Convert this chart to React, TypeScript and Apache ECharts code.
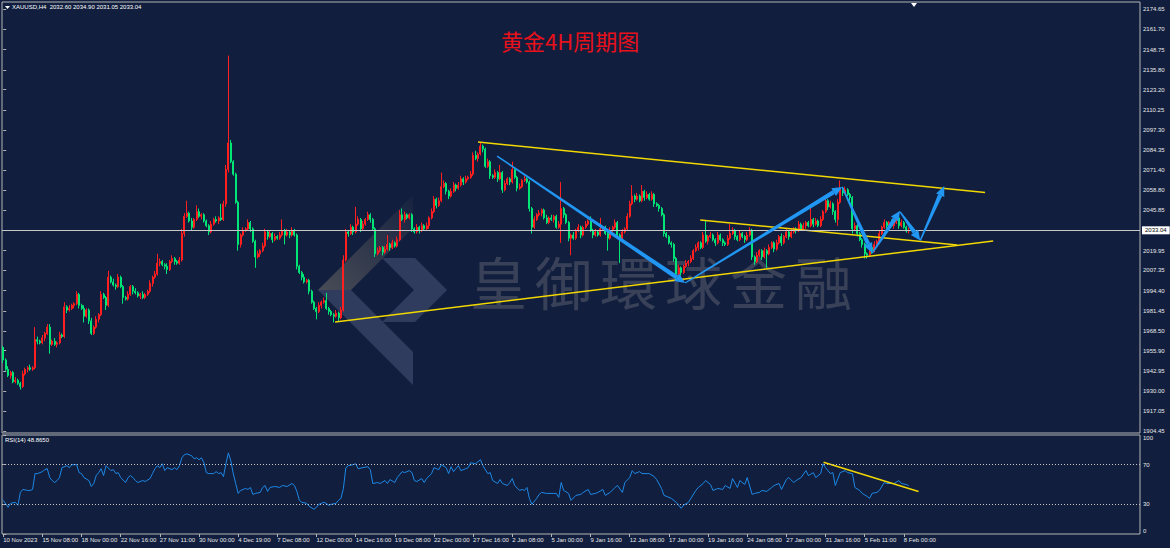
import React, { useEffect, useRef } from "react";
import * as echarts from "echarts";

// ---------------- data ----------------
const FIRST_OPEN = 1958;
const closes: number[] = [
  1950, 1944, 1940, 1942, 1936, 1937, 1935, 1933, 1941, 1944,
  1945, 1944, 1945, 1963, 1962, 1961, 1964, 1967, 1971, 1960,
  1962, 1960, 1961, 1966, 1965, 1984, 1982, 1983, 1985, 1986,
  1992, 1985, 1983, 1978, 1982, 1975, 1967, 1971, 1976, 1979,
  1992, 1990, 1985, 2003, 2000, 1998, 1997, 2003, 1997, 1990,
  1989, 1992, 1997, 1994, 1993, 1991, 1992, 1990, 1992, 1994,
  1999, 2003, 2005, 2012, 2013, 2011, 2010, 2008, 2013, 2015,
  2013, 2012, 2014, 2031, 2042, 2044, 2039, 2035, 2040, 2045,
  2042, 2043, 2039, 2036, 2032, 2037, 2040, 2039, 2041, 2040,
  2050, 2072, 2089, 2077, 2069, 2051, 2024, 2030, 2033, 2034,
  2038, 2034, 2026, 2016, 2018, 2020, 2023, 2032, 2029, 2031,
  2027, 2029, 2028, 2030, 2033, 2030, 2032, 2030, 2033, 2030,
  2010, 2006, 2003, 2000, 2001, 1994, 1987, 1983, 1981, 1985,
  1987, 1988, 1983, 1981, 1979, 1978, 1980, 1977, 1982, 2014,
  2032, 2031, 2035, 2032, 2037, 2040, 2034, 2037, 2040, 2043,
  2040, 2034, 2018, 2020, 2022, 2019, 2021, 2024, 2022, 2025,
  2023, 2027, 2043, 2040, 2043, 2041, 2043, 2034, 2032, 2035,
  2033, 2036, 2034, 2036, 2041, 2045, 2053, 2049, 2052, 2061,
  2063, 2058, 2055, 2058, 2062, 2060, 2062, 2066, 2064, 2066,
  2067, 2069, 2081, 2079, 2082, 2087, 2085, 2074, 2077, 2068,
  2067, 2070, 2066, 2070, 2059, 2063, 2066, 2064, 2072, 2067,
  2060, 2061, 2065, 2066, 2064, 2047, 2035, 2040, 2043, 2044,
  2046, 2041, 2038, 2041, 2040, 2042, 2035, 2037, 2047, 2043,
  2038, 2028, 2030, 2028, 2033, 2035, 2030, 2035, 2037, 2039,
  2033, 2030, 2032, 2030, 2034, 2035, 2031, 2028, 2033, 2035,
  2038, 2030, 2027, 2032, 2034, 2042, 2050, 2055, 2053, 2055,
  2052, 2058, 2054, 2056, 2053, 2056, 2050, 2049, 2047, 2043,
  2031, 2029, 2025, 2024, 2015, 2005, 2009, 2006, 2010, 2012,
  2013, 2015, 2020, 2022, 2025, 2022, 2030, 2026, 2029, 2030,
  2027, 2025, 2030, 2027, 2025, 2024, 2028, 2031, 2033, 2029,
  2027, 2031, 2029, 2027, 2030, 2033, 2016, 2013, 2017, 2020,
  2016, 2020, 2018, 2022, 2025, 2021, 2025, 2029, 2025, 2029,
  2032, 2029, 2032, 2034, 2033, 2037, 2034, 2036, 2038, 2036,
  2040, 2037, 2039, 2036, 2040, 2045, 2052, 2048, 2050, 2045,
  2040, 2051, 2060, 2057, 2059, 2056, 2054, 2034, 2036, 2031,
  2027, 2024, 2018, 2017, 2022, 2020, 2024, 2026, 2031, 2035,
  2038, 2036, 2038, 2036, 2038, 2041, 2036, 2038, 2035, 2032.6,
  2033.04,
];
// wick lengths above the body top / below the body bottom
const wickUp: number[] = [
  1, 1, 2, 1, 1, 2, 1, 1, 2, 1,
  1, 2, 1, 8, 2, 1, 2, 1, 2, 2,
  1, 2, 1, 2, 1, 3, 1, 2, 1, 1,
  2, 1, 1, 2, 1, 1, 2, 1, 2, 1,
  2, 1, 1, 4, 1, 2, 1, 2, 1, 1,
  1, 2, 1, 1, 2, 1, 1, 2, 1, 1,
  2, 1, 2, 6, 2, 1, 1, 2, 1, 2,
  1, 1, 2, 3, 2, 8, 1, 2, 1, 4,
  2, 1, 1, 1, 1, 2, 1, 2, 1, 9,
  2, 3, 56, 2, 1, 1, 1, 1, 2, 1,
  2, 1, 1, 1, 2, 1, 2, 2, 1, 2,
  1, 2, 1, 2, 7, 1, 2, 1, 2, 1,
  1, 1, 1, 2, 1, 1, 1, 1, 1, 2,
  1, 2, 5, 1, 1, 1, 2, 1, 2, 3,
  2, 1, 2, 1, 11, 2, 1, 2, 1, 2,
  1, 1, 1, 2, 1, 1, 2, 6, 1, 2,
  1, 2, 3, 4, 2, 1, 1, 1, 1, 2,
  1, 2, 1, 2, 1, 2, 2, 1, 2, 9,
  2, 1, 1, 2, 2, 1, 2, 2, 1, 2,
  1, 2, 2, 3, 1, 2, 1, 1, 2, 1,
  1, 2, 1, 5, 1, 2, 1, 1, 5, 1,
  1, 2, 1, 2, 1, 1, 1, 2, 1, 2,
  1, 1, 2, 1, 2, 1, 1, 2, 17, 1,
  1, 1, 1, 2, 1, 2, 1, 1, 2, 1,
  3, 1, 2, 1, 7, 1, 1, 1, 2, 1,
  2, 1, 1, 2, 1, 2, 2, 7, 1, 2,
  1, 4, 1, 2, 1, 2, 1, 1, 1, 1,
  1, 1, 1, 1, 1, 1, 2, 1, 1, 2,
  1, 2, 1, 2, 1, 1, 2, 9, 1, 2,
  1, 1, 2, 1, 1, 1, 2, 6, 2, 1,
  1, 2, 1, 1, 2, 2, 1, 1, 2, 1,
  1, 2, 1, 2, 1, 1, 2, 1, 2, 1,
  2, 1, 2, 1, 1, 2, 1, 2, 1, 1,
  8, 1, 2, 1, 2, 1, 2, 1, 2, 1,
  1, 2, 5, 1, 2, 1, 1, 1, 2, 1,
  1, 1, 1, 1, 2, 1, 2, 1, 2, 1,
  2, 1, 1, 2, 1, 2, 1, 2, 1, 1,
  1.86,
];
const wickDn: number[] = [
  2, 1, 1, 2, 1, 1, 1, 2, 1, 1,
  2, 1, 1, 1, 2, 1, 1, 2, 1, 6,
  1, 1, 2, 1, 1, 1, 2, 1, 1, 2,
  1, 2, 1, 4, 1, 2, 1, 1, 1, 2,
  1, 1, 3, 1, 1, 1, 2, 1, 1, 4,
  1, 1, 1, 2, 1, 1, 2, 1, 1, 1,
  1, 2, 1, 1, 2, 1, 2, 3, 1, 1,
  2, 1, 1, 1, 2, 1, 1, 2, 1, 1,
  1, 2, 1, 1, 2, 1, 1, 1, 2, 1,
  1, 2, 2, 1, 1, 1, 4, 2, 1, 1,
  1, 2, 1, 7, 1, 2, 1, 1, 2, 1,
  2, 1, 1, 1, 1, 6, 1, 2, 1, 1,
  2, 1, 2, 1, 1, 2, 1, 1, 5, 1,
  2, 1, 1, 2, 1, 4, 1, 2, 1, 1,
  1, 2, 1, 2, 1, 1, 2, 1, 1, 1,
  2, 1, 2, 1, 1, 2, 1, 1, 2, 1,
  1, 1, 1, 1, 2, 1, 1, 2, 1, 1,
  2, 1, 1, 1, 2, 1, 1, 2, 1, 1,
  1, 2, 2, 1, 1, 2, 1, 1, 2, 1,
  1, 1, 1, 1, 2, 1, 2, 1, 1, 2,
  1, 1, 2, 1, 2, 1, 1, 2, 1, 1,
  2, 1, 1, 1, 1, 2, 4, 1, 1, 1,
  2, 1, 1, 1, 1, 2, 1, 1, 12, 2,
  1, 2, 11, 1, 1, 1, 2, 1, 1, 1,
  1, 2, 1, 1, 1, 1, 1, 8, 1, 1,
  1, 1, 15, 1, 1, 1, 1, 1, 2, 1,
  1, 1, 2, 1, 1, 1, 2, 1, 2, 1,
  2, 1, 1, 2, 2, 3, 1, 2, 1, 1,
  2, 1, 1, 1, 2, 1, 1, 1, 2, 1,
  1, 2, 1, 1, 2, 1, 1, 1, 1, 2,
  1, 1, 1, 2, 1, 1, 2, 2, 1, 1,
  2, 1, 9, 1, 1, 2, 1, 1, 2, 1,
  1, 2, 1, 1, 2, 1, 1, 1, 2, 1,
  1, 2, 1, 1, 1, 1, 1, 2, 1, 2,
  2, 4, 1, 2, 1, 1, 2, 3, 1, 2,
  1, 2, 3, 2, 1, 2, 1, 1, 1, 1,
  1, 2, 1, 1, 2, 1, 2, 1, 1, 1,
  1.55,
];
// RSI(14): [bar index, value]
const rsiPoints: [number, number][] = [
  [0, 34], [2, 27], [3, 31], [5, 32], [6, 29], [7, 42], [8, 45], [10, 44], [11, 44], [12, 45],
  [13, 61], [14, 61], [16, 63], [17, 65], [18, 66], [19, 57], [20, 54], [21, 52], [22, 54], [23, 57],
  [24, 67], [26, 69], [27, 67], [28, 70], [30, 70], [31, 62], [32, 61], [33, 57], [35, 54], [36, 48],
  [37, 51], [38, 59], [39, 62], [40, 66], [41, 59], [42, 69], [44, 64], [45, 65], [46, 61], [47, 62],
  [48, 57], [50, 52], [51, 57], [52, 59], [53, 57], [54, 54], [55, 52], [57, 54], [58, 53], [60, 56],
  [61, 61], [62, 66], [63, 69], [64, 67], [65, 71], [66, 64], [67, 67], [69, 65], [70, 67], [71, 65],
  [72, 69], [73, 77], [74, 80], [75, 81], [77, 79], [78, 76], [79, 77], [80, 75], [81, 77], [82, 72],
  [83, 62], [84, 61], [86, 61], [87, 63], [88, 61], [89, 62], [90, 58], [91, 71], [92, 82], [93, 74],
  [94, 61], [95, 51], [96, 41], [97, 44], [99, 46], [100, 45], [101, 47], [102, 40], [103, 41], [105, 42],
  [106, 47], [107, 49], [108, 43], [109, 47], [111, 48], [113, 47], [114, 49], [116, 48], [118, 51], [119, 49],
  [120, 43], [121, 34], [122, 32], [124, 31], [125, 28], [127, 25], [128, 27], [129, 30], [131, 32], [132, 31],
  [133, 29], [134, 30], [136, 31], [137, 34], [138, 36], [139, 46], [140, 67], [141, 69], [143, 70], [144, 71],
  [145, 66], [147, 67], [149, 68], [150, 65], [151, 51], [153, 52], [154, 51], [156, 54], [157, 51], [158, 55],
  [160, 52], [161, 57], [163, 63], [164, 62], [166, 64], [167, 62], [168, 54], [169, 53], [171, 56], [172, 52],
  [173, 56], [175, 61], [176, 67], [178, 65], [179, 70], [181, 67], [182, 61], [183, 68], [184, 63], [186, 69],
  [187, 64], [189, 66], [190, 67], [191, 72], [193, 71], [194, 73], [195, 75], [196, 69], [198, 61], [199, 62],
  [200, 54], [202, 51], [203, 55], [204, 51], [206, 49], [207, 52], [208, 56], [209, 49], [211, 44], [212, 45],
  [213, 44], [214, 47], [215, 36], [216, 30], [218, 36], [219, 40], [220, 42], [222, 41], [225, 41], [226, 41],
  [227, 37], [228, 52], [229, 44], [231, 41], [232, 34], [234, 39], [236, 40], [237, 42], [239, 45], [240, 40],
  [242, 41], [243, 42], [245, 45], [246, 39], [248, 42], [250, 47], [251, 49], [253, 42], [254, 52], [256, 57],
  [257, 64], [258, 61], [260, 63], [261, 61], [263, 61], [264, 61], [266, 58], [267, 55], [269, 46], [270, 39],
  [272, 37], [273, 36], [275, 32], [277, 26], [278, 29], [280, 32], [281, 36], [283, 44], [284, 47], [286, 51],
  [287, 54], [289, 50], [290, 44], [292, 46], [294, 45], [295, 49], [297, 46], [298, 56], [300, 47], [301, 54],
  [303, 50], [304, 57], [306, 40], [307, 41], [309, 42], [310, 44], [312, 43], [314, 47], [315, 49], [317, 51],
  [318, 45], [320, 55], [321, 57], [323, 52], [324, 54], [326, 57], [328, 64], [329, 59], [331, 62], [332, 57],
  [334, 61], [335, 71], [336, 67], [338, 61], [339, 62], [340, 49], [342, 62], [344, 64], [345, 62], [347, 61],
  [348, 47], [350, 44], [351, 41], [353, 38], [354, 36], [355, 41], [357, 42], [358, 44], [360, 52], [361, 51],
  [363, 51], [364, 51], [366, 54], [367, 51], [369, 50], [370, 48.865],
];
const priceTicks: number[] = [
  2174.65, 2161.7, 2148.75, 2135.8, 2123.2, 2110.25, 2097.3, 2084.35, 2071.4, 2058.8, 2045.85,
  2019.95, 2007.35, 1994.4, 1981.45, 1968.5, 1955.9, 1942.95, 1930.0, 1917.05, 1904.45,
];
const rsiTicks: number[] = [0, 30, 70, 100];
const dateLabels: string[] = [
  "10 Nov 2023", "15 Nov 08:00", "18 Nov 00:00", "22 Nov 16:00", "27 Nov 11:00", "30 Nov 00:00",
  "4 Dec 19:00", "7 Dec 08:00", "12 Dec 00:00", "14 Dec 16:00", "19 Dec 08:00", "22 Dec 00:00",
  "27 Dec 16:00", "2 Jan 08:00", "5 Jan 00:00", "9 Jan 16:00", "12 Jan 08:00", "17 Jan 00:00",
  "19 Jan 16:00", "24 Jan 08:00", "27 Jan 00:00", "31 Jan 16:00", "5 Feb 11:00", "8 Feb 00:00",
];
const currentPrice = 2033.04;
// drawn objects, in [bar, price] data coordinates
const trendLines: number[][] = [
  [194.0, 2089.6, 401.2, 2057.3],
  [135.6, 1974.3, 404.5, 2026.2],
  [284.8, 2039.6, 389.8, 2023.6],
];
const rsiTrendLines: number[][] = [[335.2, 72.5, 374.0, 43.0]];
const arrows: number[][] = [
  [201.8, 2080.6, 278.6, 1999.3],
  [278.6, 1999.3, 342.8, 2060.8],
  [342.8, 2060.8, 355.1, 2018.5],
  [355.1, 2018.5, 366.5, 2045.6],
  [366.5, 2044.9, 374.7, 2026.5],
  [374.7, 2026.5, 384.5, 2061.4],
];
const symbolName = "XAUUSD,H4";
const rsiName = "RSI(14)";
const titleText = "黄金4H周期图";
const watermarkText = "皇御環球金融";

// ---------------- layout / style ----------------
const SLOTS = 465;
const LABEL_EVERY = 16;
const BG = "#111e3e";
const FRAME = "#b4b4b4";
const TXT = "#e8e8e8";
const UP = "#ff1f1f";
const DOWN = "#00e676";
const YELLOW = "#f2d800";
const ARROW = "#2196f3";
const FONT = '"Liberation Sans", Arial, sans-serif';

function buildOption() {
  const cats = Array.from({ length: SLOTS }, (_, i) => String(i));
  const candles = closes.map((c, i) => {
    const o = i === 0 ? FIRST_OPEN : closes[i - 1];
    return [o, c, Math.min(o, c) - wickDn[i], Math.max(o, c) + wickUp[i]];
  });
  const last = candles[candles.length - 1];
  const header = `${symbolName}  ${last[0].toFixed(2)} ${last[3].toFixed(2)} ${last[2].toFixed(2)} ${last[1].toFixed(2)}`;
  const rsiLast = rsiPoints[rsiPoints.length - 1][1];
  const showLabel = (idx: number) => idx % LABEL_EVERY === 0 && idx / LABEL_EVERY < dateLabels.length;

  const tan = new echarts.graphic.LinearGradient(0, 1, 1, 0, [
    { offset: 0, color: "rgba(150,140,120,0.42)" },
    { offset: 1, color: "rgba(150,140,120,0.04)" },
  ]);
  const blueGray = "rgba(120,132,170,0.30)";

  const graphic: any[] = [
    { type: "polygon", z: 0, silent: true, shape: { points: [[318, 290], [413, 195], [413, 228], [351, 290]] }, style: { fill: tan } },
    { type: "polygon", z: 0, silent: true, shape: { points: [[318, 290], [351, 290], [413, 352], [413, 385]] }, style: { fill: blueGray } },
    { type: "polygon", z: 0, silent: true, shape: { points: [[382, 258], [415, 258], [447, 290], [415, 322], [382, 322], [414, 290]] }, style: { fill: blueGray } },
    ...Array.from(watermarkText).map((ch, k) => ({
      type: "text", z: 0, silent: true, x: 470 + k * 65, y: 251,
      style: { text: ch, fill: "rgba(150,150,150,0.30)", font: '57px "Noto Sans CJK TC"', verticalAlign: "top" },
    })),
    { type: "text", z: 10, x: 501, y: 29, style: { text: titleText, fill: "#e8101a", font: '22px "Noto Sans CJK SC"', verticalAlign: "top" } },
    { type: "polygon", z: 10, shape: { points: [[5, 6], [10, 6], [7.5, 9]] }, style: { fill: "#ffffff" } },
    { type: "text", z: 10, x: 12, y: 4, style: { text: header, fill: "#ffffff", font: `6px ${FONT}`, verticalAlign: "top" } },
    { type: "text", z: 10, x: 5, y: 437, style: { text: `${rsiName} ${rsiLast.toFixed(4)}`, fill: "#ffffff", font: `6px ${FONT}`, verticalAlign: "top" } },
    { type: "polygon", z: 10, shape: { points: [[911, 3], [917, 3], [914, 7]] }, style: { fill: "#ffffff" } },
  ];

  const series: any[] = [
    {
      type: "candlestick", xAxisIndex: 0, yAxisIndex: 0, data: candles, barWidth: 1.5, z: 2,
      itemStyle: { color: UP, color0: DOWN, borderColor: UP, borderColor0: DOWN, borderWidth: 1 },
      markLine: {
        silent: true, symbol: ["none", "none"], animation: false,
        lineStyle: { color: "#c8c8c8", width: 1, type: "solid" },
        label: {
          position: "end", formatter: currentPrice.toFixed(2), backgroundColor: "#ffffff", color: "#000000",
          fontSize: 6, padding: [1, 3, 1, 3], distance: 2, fontFamily: FONT,
        },
        data: [{ yAxis: currentPrice }],
      },
    },
    ...trendLines.map((t) => ({
      type: "line", xAxisIndex: 1, yAxisIndex: 0, silent: true, symbol: "none", z: 4,
      data: [[t[0], t[1]], [t[2], t[3]]], lineStyle: { color: YELLOW, width: 1.5 },
    })),
    {
      type: "custom", xAxisIndex: 1, yAxisIndex: 0, silent: true, z: 5, data: arrows,
      encode: { x: [0, 2], y: [1, 3] },
      renderItem: (_p: any, api: any) => {
        const a = api.coord([api.value(0), api.value(1)]);
        const b = api.coord([api.value(2), api.value(3)]);
        const dx = b[0] - a[0], dy = b[1] - a[1];
        const L = Math.hypot(dx, dy) || 1;
        const ux = dx / L, uy = dy / L, nx = -uy, ny = ux;
        const hl = Math.min(10, L * 0.4), hw = 4.5, w0 = 0.7, w1 = 2.2;
        const bx = b[0] - ux * hl, by = b[1] - uy * hl;
        return {
          type: "group",
          children: [
            { type: "polygon", shape: { points: [[a[0] + nx * w0, a[1] + ny * w0], [bx + nx * w1, by + ny * w1], [bx - nx * w1, by - ny * w1], [a[0] - nx * w0, a[1] - ny * w0]] }, style: { fill: ARROW } },
            { type: "polygon", shape: { points: [[bx + nx * hw, by + ny * hw], [b[0], b[1]], [bx - nx * hw, by - ny * hw]] }, style: { fill: ARROW } },
          ],
        };
      },
    },
    {
      type: "line", xAxisIndex: 3, yAxisIndex: 1, data: rsiPoints, symbol: "none", silent: true, z: 3,
      lineStyle: { color: "#1e88e5", width: 1 },
      markLine: {
        silent: true, symbol: ["none", "none"], label: { show: false }, animation: false,
        lineStyle: { color: "#c8c8c8", width: 1, type: [1, 2] },
        data: [{ yAxis: 70 }, { yAxis: 30 }],
      },
    },
    ...rsiTrendLines.map((t) => ({
      type: "line", xAxisIndex: 3, yAxisIndex: 1, silent: true, symbol: "none", z: 4,
      data: [[t[0], t[1]], [t[2], t[3]]], lineStyle: { color: YELLOW, width: 1.5 },
    })),
  ];

  return {
    animation: false,
    backgroundColor: BG,
    textStyle: { fontFamily: FONT },
    grid: [
      { left: 2, top: 2, width: 1138, height: 431, show: true, borderColor: FRAME, borderWidth: 1, backgroundColor: "transparent" },
      { left: 2, top: 435, width: 1138, height: 99, show: true, borderColor: FRAME, borderWidth: 1, backgroundColor: "transparent" },
    ],
    xAxis: [
      { type: "category", gridIndex: 0, data: cats, boundaryGap: true, show: false },
      { type: "value", gridIndex: 0, min: -0.5, max: SLOTS - 0.5, show: false },
      {
        type: "category", gridIndex: 1, data: cats, boundaryGap: true,
        axisLine: { show: false },
        axisTick: { show: true, alignWithLabel: true, interval: (i: number) => showLabel(i), length: 3, lineStyle: { color: FRAME } },
        axisLabel: {
          interval: (i: number) => showLabel(i),
          formatter: (_v: string, i: number) => dateLabels[i / LABEL_EVERY] ?? "",
          align: "left", color: TXT, fontSize: 6, margin: 3, fontFamily: FONT,
        },
        splitLine: { show: false },
      },
      { type: "value", gridIndex: 1, min: -0.5, max: SLOTS - 0.5, show: false },
    ],
    yAxis: [
      {
        type: "value", gridIndex: 0, position: "right", min: 1903.2, max: 2179.3, scale: true,
        splitLine: { show: false }, axisLine: { show: false },
        axisTick: { show: true, customValues: priceTicks, length: 3, lineStyle: { color: FRAME } },
        axisLabel: { customValues: priceTicks, formatter: (v: number) => v.toFixed(2), color: TXT, fontSize: 6, margin: 3, fontFamily: FONT },
      },
      {
        type: "value", gridIndex: 1, position: "right", min: 0, max: 100,
        splitLine: { show: false }, axisLine: { show: false },
        axisTick: { show: true, customValues: rsiTicks, length: 3, lineStyle: { color: FRAME } },
        axisLabel: {
          customValues: rsiTicks, formatter: (v: number) => String(v), color: TXT, fontSize: 6, margin: 3, fontFamily: FONT,
          verticalAlignMaxLabel: "top", verticalAlignMinLabel: "bottom",
        },
      },
    ],
    graphic,
    series,
  };
}

export default function App() {
  const ref = useRef<HTMLDivElement>(null);
  useEffect(() => {
    if (!ref.current) return;
    const chart = echarts.init(ref.current, undefined, { renderer: "svg" });
    chart.setOption(buildOption() as any);
    return () => chart.dispose();
  }, []);
  return (
    <div
      ref={ref}
      style={{ position: "fixed", left: 0, top: 0, width: 1170, height: 548, background: BG }}
    />
  );
}
